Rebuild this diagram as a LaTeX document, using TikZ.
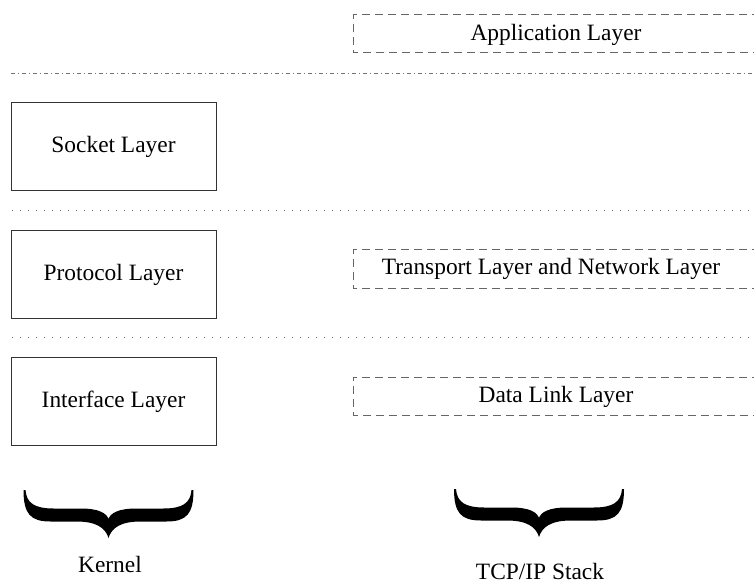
\documentclass[tikz,border=0pt]{standalone}
\usepackage{fontspec}
\setmainfont{Liberation Serif}
\begin{document}
\begin{tikzpicture}[x=0.5pt,y=-0.5pt,
  every node/.style={font=\fontsize{11.7}{14}\selectfont, inner sep=0pt},
  layerbox/.style={draw=black!80, line width=0.5pt, minimum width=102.5pt, minimum height=44pt},
  layertext/.style={anchor=base},
  stackedge/.style={draw=black!60, line width=0.5pt, dash pattern=on 4pt off 2.5pt},
  planesep/.style={draw=black!55, line width=0.5pt, dash pattern=on 2pt off 1.5pt on 0.5pt off 1.5pt},
  levelsep/.style={draw=black!55, line width=0.5pt, dash pattern=on 0.5pt off 3.5pt},
  curlybrace/.pic={
    \fill[black] (0,48) .. controls (-3,38) and (-12,31.5) .. (-32,31.5)
      -- (-58,31.5) .. controls (-78,31.5) and (-85,24) .. (-85,0)
      -- (-83,0) .. controls (-82,13) and (-74,18.5) .. (-55,18.5)
      -- (-28,18.5) .. controls (-10,18.5) and (-2,23) .. (0,29)
      .. controls (2,23) and (10,18.5) .. (28,18.5)
      -- (55,18.5) .. controls (74,18.5) and (82,13) .. (83,0)
      -- (85,0) .. controls (85,24) and (78,31.5) .. (58,31.5)
      -- (32,31.5) .. controls (12,31.5) and (3,38) .. (0,48) -- cycle;
  }
]
\useasboundingbox (0,0) rectangle (754,582);
\clip (0,0) rectangle (754,582);

% kernel layers
\node[layerbox] (socket) at (113.5,147) {};
\node[layertext] (sockettext) at (113.5,153) {Socket Layer};
\node[layerbox] (protocol) at (113.5,274.5) {};
\node[layertext] (protocoltext) at (113.5,281) {Protocol Layer};
\node[layerbox] (interface) at (113.5,401) {};
\node[layertext] (interfacetext) at (113.5,407) {Interface Layer};

% TCP/IP layers, open towards the right edge
\draw[stackedge] (760,15) -- (353,15) -- (353,53) -- (760,53);
\node[layertext] (application) at (556,41) {Application Layer};
\draw[stackedge] (760,250) -- (353,250) -- (353,289) -- (760,289);
\node[layertext] (transport) at (551,275) {Transport Layer and Network Layer};
\draw[stackedge] (760,377) -- (353,377) -- (353,415) -- (760,415);
\node[layertext] (datalink) at (556,402) {Data Link Layer};

% separators
\draw[planesep] (11,73.5) -- (760,73.5);
\draw[levelsep] (12,210.5) -- (760,210.5);
\draw[levelsep] (12,337.5) -- (760,337.5);

% braces and their labels
\pic at (108.5,490) {curlybrace};
\node[layertext] (kernel) at (110,572) {Kernel};
\pic at (539,489) {curlybrace};
\node[layertext] (stack) at (540,579) {TCP/IP Stack};
\end{tikzpicture}
\end{document}
